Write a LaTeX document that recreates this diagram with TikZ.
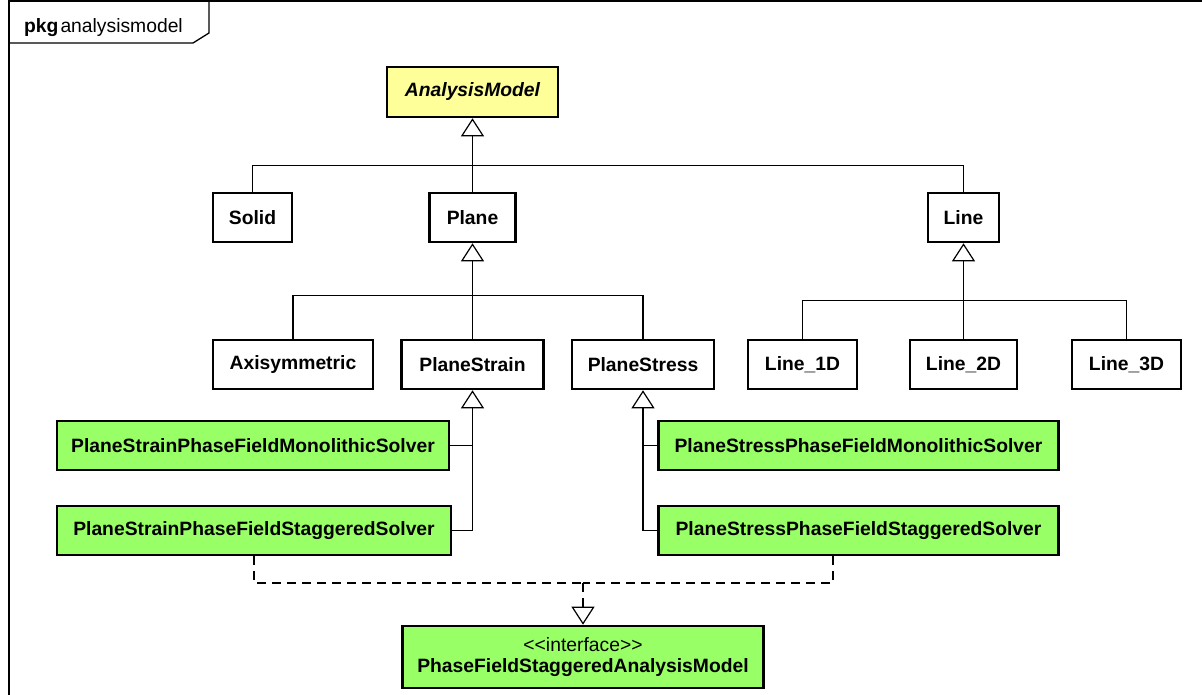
\documentclass[tikz,border=0pt]{standalone}
\usepackage{fontspec}
\setmainfont{Liberation Sans}
\usetikzlibrary{arrows.meta}
\definecolor{absfill}{HTML}{FFFF99}
\definecolor{solverfill}{HTML}{99FF66}
\begin{document}
\fontsize{19.3pt}{21pt}\selectfont
\begin{tikzpicture}[x=1pt,y=-1pt,
  cls/.style={draw, line width=2.6pt, fill=white, font=\bfseries,
    minimum height=49pt, inner sep=0pt},
  solver/.style={cls, fill=solverfill},
  link/.style={line width=1.2pt},
  gen/.style={link, -{Triangle[open, length=18pt, width=23pt, fill=white]}},
  real/.style={gen, dash pattern=on 9pt off 6pt},
]
\useasboundingbox (0,0) rectangle (1202,695);

% package frame with its name tab
\begin{scope}
  \clip (0,0) rectangle (1202,695);
  \draw[line width=1.3pt] (9,720) -- (9,1) -- (1230,1);
  \draw[line width=1.3pt] (9,43) -- (193,43) -- (209,33) -- (209,1);
\end{scope}
\node[anchor=base west, inner sep=0pt] (pkg) at (24,33) {\textbf{pkg}\kern2pt analysismodel};

% classes
\node[cls, fill=absfill, minimum width=171pt, minimum height=50pt, font=\bfseries\itshape]
  (am) at (472.5,92) {AnalysisModel};
\node[cls, minimum width=79pt] (solid) at (252.5,217.5) {Solid};
\node[cls, minimum width=86pt] (plane) at (472.5,217.5) {Plane};
\node[cls, minimum width=71pt] (line) at (963.5,217.5) {Line};

\node[cls, minimum width=160pt] (axi) at (293,364.5) {Axisymmetric};
\node[cls, minimum width=142pt] (pstrain) at (472.5,364.5) {PlaneStrain};
\node[cls, minimum width=142pt] (pstress) at (643,364.5) {PlaneStress};
\node[cls, minimum width=109pt] (l1) at (802.5,364.5) {Line\_1D};
\node[cls, minimum width=107pt] (l2) at (963.5,364.5) {Line\_2D};
\node[cls, minimum width=109pt] (l3) at (1126.5,364.5) {Line\_3D};

\node[solver, minimum width=392pt] (psmono) at (253,445.5) {PlaneStrainPhaseFieldMonolithicSolver};
\node[solver, minimum width=394pt] (psstag) at (254,530.5) {PlaneStrainPhaseFieldStaggeredSolver};
\node[solver, minimum width=400pt] (ssmono) at (858.5,445.5) {PlaneStressPhaseFieldMonolithicSolver};
\node[solver, minimum width=400pt] (ssstag) at (858.5,530.5) {PlaneStressPhaseFieldStaggeredSolver};

\node[solver, minimum width=361pt, minimum height=62pt, align=center]
  (iface) at (583,657) {\mdseries <\kern0pt<interface>\kern0pt>\\PhaseFieldStaggeredAnalysisModel};

% generalisations
\draw[link] (solid.north) |- ([yshift=-47pt]am.south) -| (line.north);
\draw[gen] (plane.north) -- (am.south);

\draw[link] (axi.north) |- ([yshift=-52pt]plane.south) -| (pstress.north);
\draw[gen] (pstrain.north) -- (plane.south);

\draw[link] (l1.north) |- ([yshift=-57pt]line.south) -| (l3.north);
\draw[gen] (l2.north) -- (line.south);

\draw[link] (psmono.east) -- (psmono.east -| pstrain.south);
\draw[gen] (psstag.east) -| (pstrain.south);
\draw[link] (ssmono.west) -- (ssmono.west -| pstress.south);
\draw[gen] (ssstag.west) -| (pstress.south);

% realisations of the interface
\coordinate (join) at (583,583);
\coordinate (rx) at (833,0);
\draw[link, dash pattern=on 9pt off 6pt] (psstag.south) |- (join);
\draw[link, dash pattern=on 9pt off 6pt] (ssstag.south -| rx) |- (join);
\draw[real] (join) -- (iface.north);
\end{tikzpicture}
\end{document}
